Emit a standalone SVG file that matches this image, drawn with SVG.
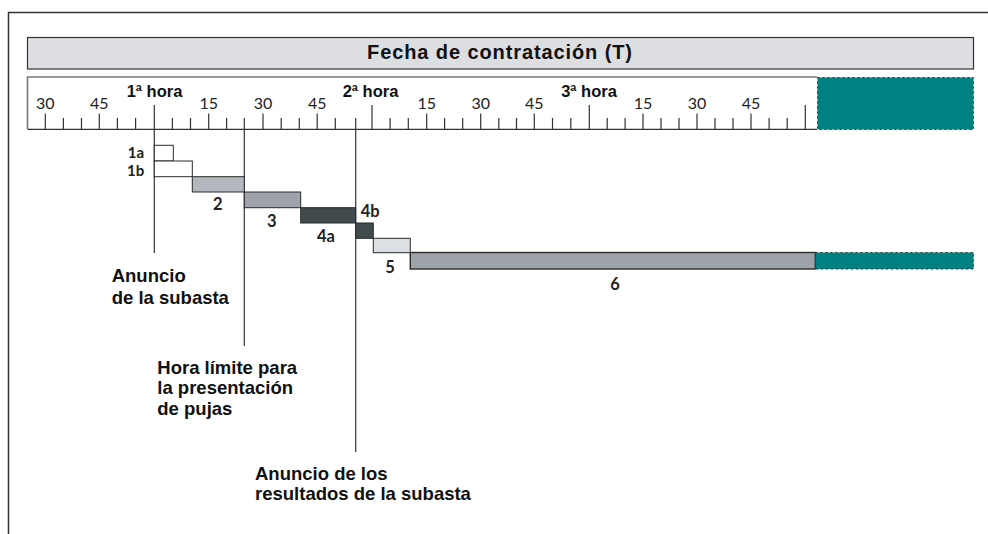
<svg xmlns="http://www.w3.org/2000/svg" width="988" height="534" viewBox="0 0 988 534">
<style>
.frame{fill:none;stroke:#333;stroke-width:1.5}
.bar{stroke:#2a2a2a;stroke-width:1}
.tick{stroke:#333;stroke-width:1.2}
.conn{stroke:#333;stroke-width:1.2;fill:none}
.teal{fill:#008080;stroke:#2b3a3a;stroke-width:1;stroke-dasharray:2 3}
.title{font-family:"Liberation Sans",Arial,sans-serif;font-weight:bold;font-size:20px;fill:#111;text-anchor:middle}
.hour{font-family:"Liberation Sans",Arial,sans-serif;font-weight:bold;font-size:16.5px;fill:#111;text-anchor:middle}
.num{font-family:Lato,"Open Sans",sans-serif;font-size:16px;fill:#222;text-anchor:middle}
.lbl{font-family:Lato,"Open Sans",sans-serif;font-weight:bold;font-size:16.5px;fill:#222}
.sm{font-size:15px}
.ann{font-family:"Liberation Sans",Arial,sans-serif;font-weight:bold;font-size:18.5px;fill:#111}
</style>
<rect width="988" height="534" fill="#fff"/>
<path class="frame" d="M988 12.5 H8.5 V534"/>

<g id="title">
<rect x="27.5" y="37.5" width="946" height="31.5" fill="#dcdee2" stroke="#333" stroke-width="1.2"/>
<text class="title" x="500" y="58.7" letter-spacing="0.9">Fecha de contratación (T)</text>
</g>

<g id="ruler">
<rect x="27.5" y="77" width="789.5" height="52" fill="#fff" stroke="none"/>
<path d="M27.5 129 V77 H817" fill="none" stroke="#777" stroke-width="1.6"/>
<line x1="27.5" y1="129.3" x2="817" y2="129.3" stroke="#333" stroke-width="1.3"/>
<g class="tick">
<path d="M45.3 113.5V129 M63.4 118V129 M81.5 118V129 M99.3 113.5V129 M117.4 118V129 M135.6 118V129 M172.4 118V129 M190.5 118V129 M208.7 113.5V129 M226.6 118V129 M263 113.5V129 M281.2 118V129 M299.3 118V129 M317.2 113.5V129 M335.3 118V129 M372 105V129 M390.1 118V129 M408.3 118V129 M426.7 113.5V129 M444.6 118V129 M462.7 118V129 M480.7 113.5V129 M498.8 118V129 M516.5 118V129 M534.3 113.5V129 M552.5 118V129 M570.8 118V129 M589.3 105V129 M607.2 118V129 M625.1 118V129 M643 113.5V129 M661 118V129 M679 118V129 M697 113.5V129 M715 118V129 M733 118V129 M751 113.5V129 M769.1 118V129 M787.2 118V129 M805.3 105V129"/>
</g>
<g class="num">
<text x="45.3" y="109">30</text>
<text x="99.3" y="109">45</text>
<text x="208.7" y="109">15</text>
<text x="263" y="109">30</text>
<text x="317.2" y="109">45</text>
<text x="426.7" y="109">15</text>
<text x="480.7" y="109">30</text>
<text x="534.3" y="109">45</text>
<text x="643" y="109">15</text>
<text x="697" y="109">30</text>
<text x="751" y="109">45</text>
</g>
<g class="hour">
<text x="154.5" y="96.7">1ª hora</text>
<text x="370.5" y="96.7">2ª hora</text>
<text x="589" y="96.7">3ª hora</text>
</g>
</g>

<g id="ruler-extension">
<rect class="teal" x="817.5" y="77.5" width="156" height="52"/>
</g>

<g id="connectors">
<line class="conn" x1="154.3" y1="105" x2="154.3" y2="253"/>
<line class="conn" x1="244.3" y1="118" x2="244.3" y2="346"/>
<line class="conn" x1="355.7" y1="118" x2="355.7" y2="452"/>
</g>

<g id="bar-1a">
<rect class="bar" x="154.3" y="145.3" width="19" height="15.7" fill="#fff"/>
<text class="lbl sm" x="144" y="157.5" text-anchor="end">1a</text>
</g>
<g id="bar-1b">
<rect class="bar" x="154.3" y="161" width="38" height="15.7" fill="#fff"/>
<text class="lbl sm" x="144.3" y="176" text-anchor="end">1b</text>
</g>
<g id="bar-2">
<rect class="bar" x="192.3" y="176.7" width="52" height="15.3" fill="#b3b8be"/>
<text class="lbl" x="217.7" y="210" text-anchor="middle">2</text>
</g>
<g id="bar-3">
<rect class="bar" x="244.3" y="192" width="56.4" height="15.7" fill="#9ea3a9"/>
<text class="lbl" x="271.7" y="226.7" text-anchor="middle">3</text>
</g>
<g id="bar-4a">
<rect class="bar" x="300.7" y="207.7" width="55" height="15.3" fill="#414a4c"/>
<text class="lbl" x="326" y="241.7" text-anchor="middle">4a</text>
</g>
<g id="bar-4b">
<rect class="bar" x="355.7" y="223" width="17.6" height="15.3" fill="#414a4c"/>
<text class="lbl" x="360.7" y="216.7">4b</text>
</g>
<g id="bar-5">
<rect class="bar" x="373.3" y="238.3" width="37" height="14.4" fill="#dcdfe3"/>
<text class="lbl" x="390" y="272.7" text-anchor="middle">5</text>
</g>
<g id="bar-6">
<rect x="410.3" y="252.5" width="405" height="16.5" fill="#9ea3a9" stroke="#2a2a2a" stroke-width="1.4"/>
<rect class="teal" x="815.5" y="252.5" width="158" height="16.5"/>
<text class="lbl" x="615" y="290" text-anchor="middle">6</text>
</g>

<g id="ann-anuncio">
<text class="ann" x="111.7" y="281.7">Anuncio</text>
<text class="ann" x="111.7" y="304.3">de la subasta</text>
</g>
<g id="ann-hora-limite">
<text class="ann" x="157.3" y="373.5">Hora límite para</text>
<text class="ann" x="157.3" y="394">la presentación</text>
<text class="ann" x="157.3" y="414.5">de pujas</text>
</g>
<g id="ann-resultados">
<text class="ann" x="255" y="480">Anuncio de los</text>
<text class="ann" x="255" y="500">resultados de la subasta</text>
</g>
</svg>
